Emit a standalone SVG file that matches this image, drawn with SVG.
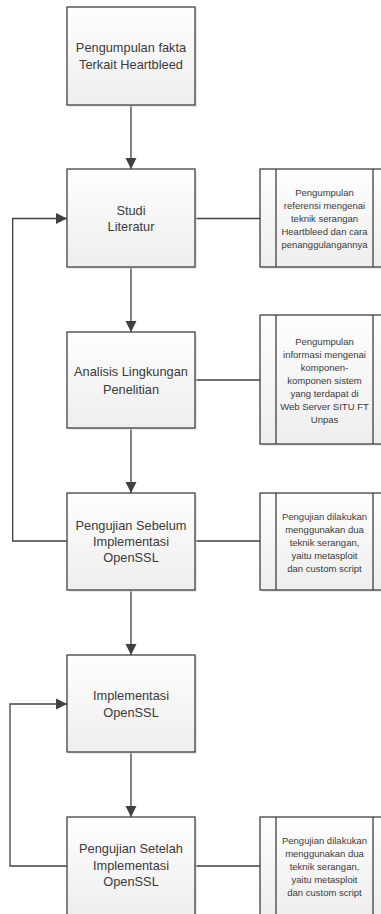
<svg xmlns="http://www.w3.org/2000/svg" width="381" height="914" viewBox="0 0 381 914">
<style>
.box{fill:url(#g);stroke:#404040;stroke-width:1.3}
.sh{fill:#d8d8d8;opacity:0.6}
.t{font-family:"Liberation Sans",Arial,sans-serif;font-size:12.8px;fill:#3a3a3a;text-anchor:middle}
.s{font-family:"Liberation Sans",Arial,sans-serif;font-size:9.5px;fill:#3a3a3a;text-anchor:middle}
.c{fill:none;stroke:#404040;stroke-width:1.3}
.a{marker-end:url(#arr)}
</style>
<defs>
<linearGradient id="g" x1="0" y1="0" x2="0" y2="1">
<stop offset="0" stop-color="#fefefe"/>
<stop offset="1" stop-color="#eeeeee"/>
</linearGradient>
<marker id="arr" viewBox="0 0 10 10" refX="10" refY="5" markerUnits="userSpaceOnUse" markerWidth="11" markerHeight="12" orient="auto">
<path d="M0,0 L10,5 L0,10 z" fill="#404040"/>
</marker>
</defs>
<rect width="381" height="914" fill="#ffffff"/>
<g id="connectors">
<path class="c a" d="M131,105 V169"/>
<path class="c a" d="M131,267 V332"/>
<path class="c a" d="M131,428 V493"/>
<path class="c a" d="M131,590 V655"/>
<path class="c a" d="M131,752 V817"/>
<path class="c a" d="M67,541 H12.7 V218.5 H67"/>
<path class="c a" d="M67,866 H10 V704 H67"/>
<path class="c" d="M195,218.5 H260"/>
<path class="c" d="M195,380 H260"/>
<path class="c" d="M195,541 H260"/>
<path class="c" d="M195,866 H260"/>
</g>
<g id="n1">
<rect class="sh" x="69" y="9" width="128" height="98"/>
<rect class="box" x="67" y="7" width="128" height="98"/>
<text class="t" x="131" y="52">Pengumpulan fakta</text>
<text class="t" x="131" y="69">Terkait Heartbleed</text>
</g>
<g id="n2">
<rect class="sh" x="69" y="171" width="128" height="98"/>
<rect class="box" x="67" y="169" width="128" height="98"/>
<text class="t" x="131" y="214.5">Studi</text>
<text class="t" x="131" y="231">Literatur</text>
</g>
<g id="s1">
<rect class="sh" x="262" y="171" width="129" height="98"/>
<rect class="box" x="260" y="169" width="129" height="98"/>
<path class="c" d="M276,169 V267 M373,169 V267"/>
<text class="s" x="324.5" y="195.5">Pengumpulan</text>
<text class="s" x="324.5" y="208.5">referensi mengenai</text>
<text class="s" x="324.5" y="221.5">teknik serangan</text>
<text class="s" x="324.5" y="234.5">Heartbleed dan cara</text>
<text class="s" x="324.5" y="247.5">penanggulangannya</text>
</g>
<g id="n3">
<rect class="sh" x="69" y="334" width="128" height="96"/>
<rect class="box" x="67" y="332" width="128" height="96"/>
<text class="t" x="131" y="376">Analisis Lingkungan</text>
<text class="t" x="131" y="394">Penelitian</text>
</g>
<g id="s2">
<rect class="sh" x="262" y="317" width="129" height="129"/>
<rect class="box" x="260" y="315" width="129" height="129"/>
<path class="c" d="M276,315 V444 M373,315 V444"/>
<text class="s" x="324.5" y="344.5">Pengumpulan</text>
<text class="s" x="324.5" y="357.5">informasi mengenai</text>
<text class="s" x="324.5" y="370.5">komponen-</text>
<text class="s" x="324.5" y="383.5">komponen sistem</text>
<text class="s" x="324.5" y="396.5">yang terdapat di</text>
<text class="s" x="324.5" y="409.5">Web Server SITU FT</text>
<text class="s" x="324.5" y="422.5">Unpas</text>
</g>
<g id="n4">
<rect class="sh" x="69" y="495" width="128" height="97"/>
<rect class="box" x="67" y="493" width="128" height="97"/>
<text class="t" x="131" y="529.5">Pengujian Sebelum</text>
<text class="t" x="131" y="545.5">Implementasi</text>
<text class="t" x="131" y="561.5">OpenSSL</text>
</g>
<g id="s3">
<rect class="sh" x="262" y="495" width="129" height="97"/>
<rect class="box" x="260" y="493" width="129" height="97"/>
<path class="c" d="M276,493 V590 M373,493 V590"/>
<text class="s" x="324.5" y="519.5">Pengujian dilakukan</text>
<text class="s" x="324.5" y="532.5">menggunakan dua</text>
<text class="s" x="324.5" y="545.5">teknik serangan,</text>
<text class="s" x="324.5" y="558.5">yaitu metasploit</text>
<text class="s" x="324.5" y="571.5">dan custom script</text>
</g>
<g id="n5">
<rect class="sh" x="69" y="657" width="128" height="97"/>
<rect class="box" x="67" y="655" width="128" height="97"/>
<text class="t" x="131" y="700">Implementasi</text>
<text class="t" x="131" y="717">OpenSSL</text>
</g>
<g id="n6">
<rect class="sh" x="69" y="819" width="128" height="98"/>
<rect class="box" x="67" y="817" width="128" height="98"/>
<text class="t" x="131" y="853">Pengujian Setelah</text>
<text class="t" x="131" y="870">Implementasi</text>
<text class="t" x="131" y="886">OpenSSL</text>
</g>
<g id="s4">
<rect class="sh" x="262" y="819" width="129" height="98"/>
<rect class="box" x="260" y="817" width="129" height="98"/>
<path class="c" d="M276,817 V915 M373,817 V915"/>
<text class="s" x="324.5" y="843.5">Pengujian dilakukan</text>
<text class="s" x="324.5" y="856.5">menggunakan dua</text>
<text class="s" x="324.5" y="869.5">teknik serangan,</text>
<text class="s" x="324.5" y="882.5">yaitu metasploit</text>
<text class="s" x="324.5" y="895.5">dan custom script</text>
</g>
</svg>
